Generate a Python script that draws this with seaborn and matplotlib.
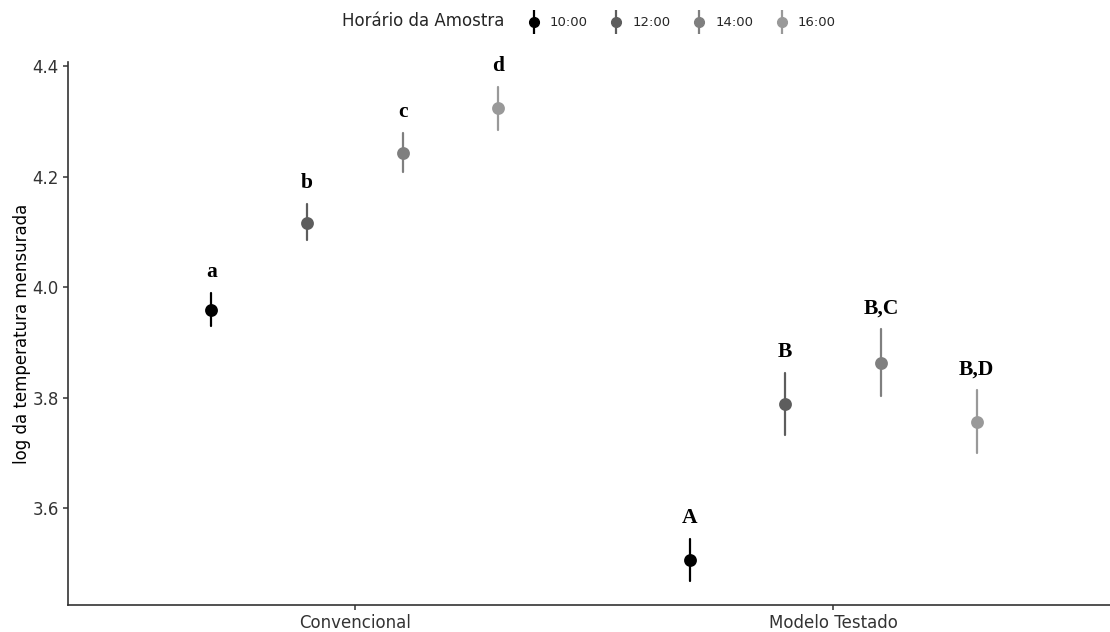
import numpy as np
import pandas as pd
import matplotlib
matplotlib.use("Agg")
import matplotlib.pyplot as plt
from matplotlib.lines import Line2D
from matplotlib.legend_handler import HandlerTuple
import seaborn as sns

# ---- data ----
grupos = ["Convencional", "Modelo Testado"]
horarios = ["10:00", "12:00", "14:00", "16:00"]
media_conv = [3.959, 4.117, 4.243, 4.324]
inf_conv = [3.930, 4.085, 4.208, 4.284]
sup_conv = [3.989, 4.150, 4.279, 4.363]
media_mod = [3.505, 3.789, 3.862, 3.756]
inf_mod = [3.467, 3.733, 3.802, 3.700]
sup_mod = [3.544, 3.844, 3.924, 3.813]
letras_conv = ["a", "b", "c", "d"]
letras_mod = ["A", "B", "B,C", "B,D"]
cores = ["#000000", "#5D5D5D", "#7F7F7F", "#999999"]

# long table: lower / centre / upper per group -> median + full percentile interval
rows = []
for g, med, lo, hi in [(grupos[0], media_conv, inf_conv, sup_conv),
                       (grupos[1], media_mod, inf_mod, sup_mod)]:
    for h, m, l, u in zip(horarios, med, lo, hi):
        for v in (l, m, u):
            rows.append({"grupo": g, "horario": h, "valor": v})
df = pd.DataFrame(rows)

sns.set_theme(style="ticks")
plt.rcParams["font.family"] = ["DejaVu Sans"]

fig = plt.figure(figsize=(11.1, 6.32), dpi=100)
ax = fig.add_axes([68 / 1110, 27 / 632, 1052 / 1110, 543 / 632])

dodge = 0.6
sns.pointplot(data=df, x="grupo", y="valor", hue="horario", order=grupos,
              hue_order=horarios, palette=cores, estimator="median",
              errorbar=("pi", 100), dodge=dodge, linestyle="none",
              markersize=7.2, err_kws={"linewidth": 1.6}, legend=False, ax=ax)

# significance letters above the upper end of each interval
offsets = np.linspace(0, dodge, len(horarios)) - dodge / 2
for gi, (letras, sup) in enumerate([(letras_conv, sup_conv), (letras_mod, sup_mod)]):
    for hi, (lab, u) in enumerate(zip(letras, sup)):
        ax.annotate(lab, xy=(gi + offsets[hi], u), xytext=(0, 11.5),
                    textcoords="offset points", ha="center", va="baseline",
                    fontsize=15.5, fontweight="bold", family="Liberation Serif",
                    color="black")

ax.set_xlim(-0.6, 1.6)
ax.set_ylim(3.4242, 4.408)
ax.set_yticks([3.6, 3.8, 4.0, 4.2, 4.4])
ax.set_xlabel("")
ax.set_ylabel("log da temperatura mensurada", fontsize=12, color="black", labelpad=1)
ax.tick_params(axis="both", labelsize=12, colors="#333333", length=3.5, width=1.1,
               direction="out", pad=3)
for s in ["top", "right"]:
    ax.spines[s].set_visible(False)
for s in ["left", "bottom"]:
    ax.spines[s].set_linewidth(1.2)
    ax.spines[s].set_color("#333333")

# legend: title inline, pointrange keys
handles = [Line2D([], [], linestyle="none", marker=None)]
labels = ["Horário da Amostra"]
for c, h in zip(cores, horarios):
    handles.append((Line2D([], [], marker="|", markersize=17, markeredgewidth=1.6,
                           linestyle="none", color=c),
                    Line2D([], [], marker="o", markersize=7, linestyle="none",
                           color=c)))
    labels.append(h)
leg = fig.legend(handles, labels, loc="center", bbox_to_anchor=(0.52, 0.966),
                 ncol=5, frameon=False, handlelength=1.2, handletextpad=0.6,
                 columnspacing=1.6, fontsize=9.5,
                 handler_map={tuple: HandlerTuple(ndivide=1, pad=0)})
leg.get_texts()[0].set_fontsize(12)

fig.savefig("out.png", dpi=100)
